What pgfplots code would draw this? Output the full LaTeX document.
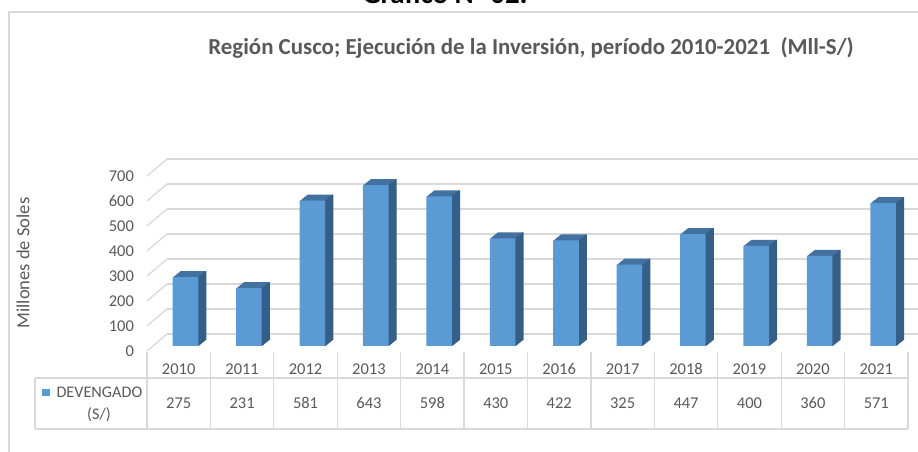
\documentclass[border=0pt]{standalone}
\usepackage{fontspec}
\setmainfont{Carlito}
\usepackage{pgfplots}
\usepackage{pgfplotstable}
\pgfplotsset{compat=1.18}
\definecolor{barfront}{HTML}{5B9BD5}
\definecolor{bartop}{HTML}{4372A0}
\definecolor{barside}{HTML}{365F87}
\definecolor{gridgray}{HTML}{D9D9D9}
\definecolor{txt}{HTML}{595959}

% Devengado (Mll S/) por año
\pgfplotstableread{
idx year val
0  2010 275
1  2011 231
2  2012 581
3  2013 643
4  2014 598
5  2015 430
6  2016 422
7  2017 325
8  2018 447
9  2019 400
10 2020 360
11 2021 571
}\data

\newcommand{\lbl}{\fontsize{16.5}{19}\selectfont}

\begin{document}
\begin{tikzpicture}
\useasboundingbox (0pt,0pt) rectangle (918pt,452pt);
\clip (0pt,0pt) rectangle (918pt,452pt);

\begin{scope}[x=1pt,y=1pt]
% marco del grafico
\draw[gridgray, line width=1.5pt] (9,-5) -- (9,440) -- (930,440);
\node[font=\fontsize{29}{34}\selectfont\bfseries, anchor=base] at (445,448.5) {Gráfico N° 02:};
\node[font=\fontsize{22.9}{27}\selectfont\bfseries, text=txt, anchor=base] at (531,397)
  {Región Cusco; Ejecución de la Inversión, período 2010-2021~ (Mll-S/)};
\node[font=\fontsize{18.5}{22}\selectfont, text=txt, rotate=90] at (23,189) {Millones de Soles};
\end{scope}

% pared del fondo (rejilla)
\begin{axis}[
  at={(167pt,118pt)}, anchor=south west,
  width=761pt, height=175pt, scale only axis,
  xmin=-0.5, xmax=11.5, ymin=0, ymax=700,
  ytick={0,100,...,700}, xtick=\empty, yticklabels={},
  axis line style={draw=none}, major tick length=0pt,
  ymajorgrids, grid style={gridgray, line width=1.3pt},
]
\end{axis}

% plano frontal
\begin{axis}[
  at={(147pt,101pt)}, anchor=south west,
  width=761pt, height=175pt, scale only axis,
  xmin=-0.5, xmax=11.5, ymin=0, ymax=700,
  clip=false,
  axis line style={draw=none}, major tick length=0pt,
  ytick={0,100,...,700},
  xtick={0,...,11},
  xticklabels={2010,2011,2012,2013,2014,2015,2016,2017,2018,2019,2020,2021},
  /pgf/number format/assume math mode=true,
  ticklabel style={font=\lbl, text=txt},
  yticklabel style={anchor=east, xshift=-9.5pt},
  xticklabel style={anchor=base, yshift=-23.5pt},
]
% pared lateral
\pgfplotsinvokeforeach{0,100,...,700}{
  \draw[gridgray, line width=1.3pt] (axis cs:-0.5,#1) -- ++(20pt,17pt);
}
% cara superior (extrusion)
\pgfplotsinvokeforeach{1,...,10}{
  \addplot[ybar, bar width=25.6pt, bar shift=0pt, fill=bartop, draw=none,
    xshift={6.8pt+0.75pt*#1}, yshift={5pt+0.6pt*#1}]
    table[x=idx, y=val] {\data};
}
% cara lateral
\pgfplotsinvokeforeach{0,...,10}{
  \addplot[ybar, bar width=1.3pt, bar shift=12.8pt, fill=barside, draw=none,
    xshift={6.8pt+0.75pt*#1}, yshift={5pt+0.6pt*#1}]
    table[x=idx, y=val] {\data};
}
% cara frontal
\addplot[ybar, bar width=25.6pt, bar shift=0pt, fill=barfront, draw=none,
  xshift=6.8pt, yshift=5pt]
  table[x=idx, y=val] {\data};
% fila de valores de la tabla
\addplot[draw=none, mark=none, nodes near coords, point meta=explicit,
  nodes near coords style={font=\lbl, text=txt, anchor=base}]
  table[x=idx, y expr=-231.2, meta=val] {\data};
\end{axis}

% tabla de datos
\begin{scope}[x=1pt, y=1pt, gridgray, line width=1.3pt]
  \foreach \k in {0,...,12} {\draw (147+63.42*\k,100) -- (147+63.42*\k,23);}
  \draw (35,74) -- (908,74);
  \draw (35,23) -- (908,23);
  \draw (35,74) -- (35,23);
\end{scope}
\begin{scope}[x=1pt, y=1pt]
\fill[barfront] (42,55.5) rectangle (49.5,63);
\node[font=\fontsize{16.2}{19}\selectfont, text=txt, anchor=base west] at (53,54.5) {DEVENGADO};
\node[font=\fontsize{16.2}{19}\selectfont, text=txt, anchor=base] at (99,32) {(S/)};
\end{scope}
\end{tikzpicture}
\end{document}
